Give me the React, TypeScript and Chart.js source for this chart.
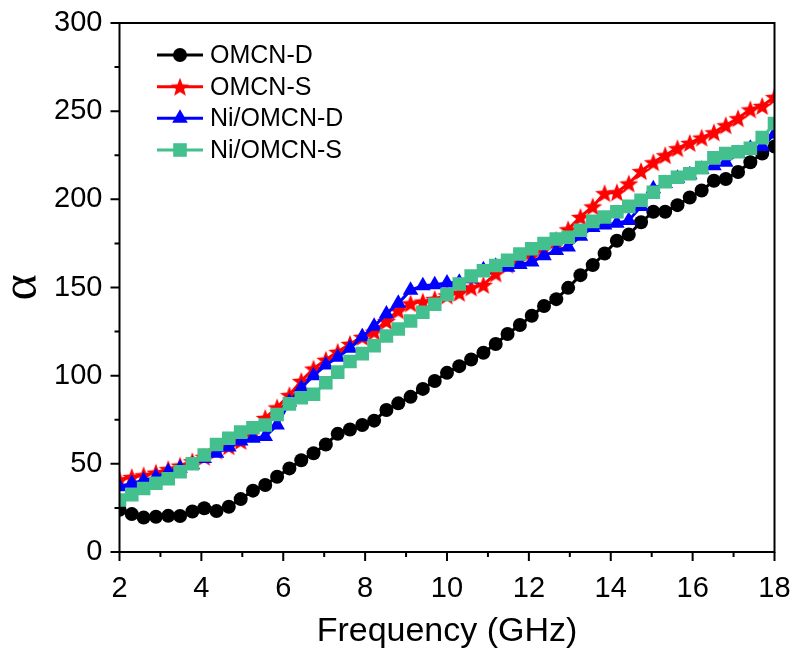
import React, { useEffect, useRef } from "react";
import { Chart, registerables } from "chart.js";

Chart.register(...registerables);

// ---------- data ----------
const FREQ = [
  2.0, 2.3, 2.59, 2.89, 3.19, 3.48, 3.78, 4.07, 4.37, 4.67, 4.96, 5.26, 5.56, 5.85,
  6.15, 6.44, 6.74, 7.04, 7.33, 7.63, 7.93, 8.22, 8.52, 8.81, 9.11, 9.41, 9.7, 10.0,
  10.3, 10.59, 10.89, 11.19, 11.48, 11.78, 12.07, 12.37, 12.67, 12.96, 13.26, 13.56,
  13.85, 14.15, 14.44, 14.74, 15.04, 15.33, 15.63, 15.93, 16.22, 16.52, 16.81, 17.11,
  17.41, 17.7, 18.0,
];

const OMCN_D = [
  24, 21.5, 19.5, 20, 20.5, 20.4, 23, 24.8, 23.2, 25.7, 30, 34.8, 38, 42.7, 47.4, 52,
  56, 61, 67, 69.5, 72, 74.5, 80.5, 84.3, 88, 92.5, 97, 101.6, 105.4, 109.2, 113, 118,
  123.6, 128.7, 134, 139.5, 143.4, 149.8, 157, 162.7, 169.3, 176.5, 180, 187, 193, 193,
  196.7, 201, 205, 210.5, 211.5, 215.5, 221, 226, 230,
];

const OMCN_S = [
  41, 42.5, 43.5, 45, 47, 49, 51.5, 54, 57.5, 60, 63, 69, 76, 82, 89, 97, 104, 109,
  113.5, 118, 122, 125, 131, 137, 141, 142, 143.5, 145.5, 147, 150, 151.5, 158, 163, 166,
  168, 172, 177, 183, 190, 196, 203.5, 204, 209, 216, 221, 225, 229, 232, 235, 238, 242,
  246, 251, 253, 258,
];

const NI_OMCN_D = [
  37, 39, 40.5, 42.5, 45.5, 47.5, 49.5, 53, 56, 59.5, 63, 64.5, 65.5, 72, 85, 93, 100,
  106, 110.5, 115.5, 122, 128, 135, 141, 148.5, 151, 151.5, 152.5, 153, 155, 160, 162,
  161.5, 163, 164.5, 168, 171, 173, 179, 184, 185.5, 186.5, 188, 196, 206, 209, 212, 214,
  217, 219, 221, 226, 229, 230, 237,
];

const NI_OMCN_S = [
  29.5, 32.5, 36, 39, 41.5, 45.5, 50, 55, 61, 64.5, 68, 70.5, 72, 78, 84, 87.5, 89.5, 96,
  102, 108, 112.5, 117, 122.5, 126.5, 131, 136, 140.5, 146, 152, 156.5, 159.5, 162.5,
  165.5, 169, 172, 175, 177.5, 178.5, 182.5, 187.5, 190, 193, 196, 199.5, 204, 210, 212.5,
  214.5, 218, 223.5, 226, 227, 229, 235, 243,
];

const SERIES_NAMES = ["OMCN-D", "OMCN-S", "Ni/OMCN-D", "Ni/OMCN-S"];
const SERIES_VALUES = [OMCN_D, OMCN_S, NI_OMCN_D, NI_OMCN_S];
const X_MIN = 2;
const X_MAX = 18;
const X_STEP = 2;
const Y_MIN = 0;
const Y_MAX = 300;
const Y_STEP = 50;
const X_TITLE = "Frequency (GHz)";
const Y_TITLE = "α";

// ---------- styles ----------
const COLORS = ["#000000", "#FF0000", "#0000FF", "#43C08E"];
const SANS = "'Liberation Sans', Arial, sans-serif";
const SERIF = "'Liberation Serif', 'Times New Roman', serif";

function makeStar(color: string, outer: number, inner: number): HTMLCanvasElement {
  const size = Math.ceil(outer * 2 + 2);
  const c = document.createElement("canvas");
  c.width = size;
  c.height = size;
  const ctx = c.getContext("2d")!;
  const cx = size / 2;
  const cy = size / 2 + outer * 0.1;
  ctx.fillStyle = color;
  ctx.beginPath();
  for (let i = 0; i < 10; i++) {
    const r = i % 2 === 0 ? outer : inner;
    const a = -Math.PI / 2 + (i * Math.PI) / 5;
    const px = cx + r * Math.cos(a);
    const py = cy + r * Math.sin(a);
    if (i === 0) ctx.moveTo(px, py);
    else ctx.lineTo(px, py);
  }
  ctx.closePath();
  ctx.fill();
  return c;
}

function drawMarker(ctx: CanvasRenderingContext2D, kind: string, x: number, y: number, color: string, star: HTMLCanvasElement) {
  ctx.fillStyle = color;
  ctx.beginPath();
  if (kind === "circle") {
    ctx.arc(x, y, 7, 0, Math.PI * 2);
    ctx.fill();
  } else if (kind === "triangle") {
    const r = 9;
    ctx.moveTo(x, y - r);
    ctx.lineTo(x + r * 0.866, y + r * 0.5);
    ctx.lineTo(x - r * 0.866, y + r * 0.5);
    ctx.closePath();
    ctx.fill();
  } else if (kind === "rect") {
    const h = 6.8;
    ctx.rect(x - h, y - h, 2 * h, 2 * h);
    ctx.fill();
  } else if (kind === "star") {
    ctx.drawImage(star, x - star.width / 2, y - star.height / 2);
  }
}

function zeroPadding(scale: any) {
  scale.paddingTop = 0;
  scale.paddingBottom = 0;
  scale.paddingLeft = 0;
  scale.paddingRight = 0;
}

export default function App() {
  const ref = useRef<HTMLCanvasElement | null>(null);

  useEffect(() => {
    if (!ref.current) return;
    const star = makeStar(COLORS[1], 10, 4.2);
    const kinds = ["circle", "star", "triangle", "rect"];

    const framePlugin = {
      id: "frameAndLegend",
      afterDatasetsDraw(chart: any) {
        const { ctx, chartArea: a, scales } = chart;
        const xs = scales.x;
        const ys = scales.y;
        ctx.save();
        ctx.strokeStyle = "#000";
        ctx.lineWidth = 2;
        ctx.strokeRect(a.left, a.top, a.right - a.left, a.bottom - a.top);
        ctx.beginPath();
        for (let v = X_MIN; v <= X_MAX; v += X_STEP / 2) {
          const px = xs.getPixelForValue(v);
          const len = (v - X_MIN) % X_STEP === 0 ? 9 : 5;
          ctx.moveTo(px, a.bottom);
          ctx.lineTo(px, a.bottom + len);
        }
        for (let v = Y_MIN; v <= Y_MAX; v += Y_STEP / 2) {
          const py = ys.getPixelForValue(v);
          const len = v % Y_STEP === 0 ? 9 : 5;
          ctx.moveTo(a.left, py);
          ctx.lineTo(a.left - len, py);
        }
        ctx.stroke();

        // legend
        const lx0 = a.left + 37.5;
        const lx1 = a.left + 83.5;
        const tx = a.left + 90.5;
        const rowY = [32, 63.7, 95.3, 127];
        ctx.font = `25px ${SANS}`;
        ctx.textBaseline = "middle";
        ctx.textAlign = "left";
        SERIES_NAMES.forEach((name, i) => {
          const y = a.top + rowY[i];
          ctx.strokeStyle = COLORS[i];
          ctx.lineWidth = 3;
          ctx.beginPath();
          ctx.moveTo(lx0, y);
          ctx.lineTo(lx1, y);
          ctx.stroke();
          drawMarker(ctx, kinds[i], (lx0 + lx1) / 2, y, COLORS[i], star);
          ctx.fillStyle = "#000";
          ctx.fillText(name, tx, y + 1);
        });
        ctx.restore();
      },
    };

    const datasets = SERIES_VALUES.map((vals, i) => ({
      label: SERIES_NAMES[i],
      data: vals.map((v, j) => ({ x: FREQ[j], y: v })),
      borderColor: COLORS[i],
      backgroundColor: COLORS[i],
      borderWidth: 3,
      pointStyle: i === 1 ? (star as any) : kinds[i],
      pointRadius: i === 0 ? 7 : i === 2 ? 9 : i === 3 ? 9.6 : 9,
      pointBorderWidth: 0,
      pointBackgroundColor: COLORS[i],
      pointBorderColor: COLORS[i],
      tension: 0,
      clip: 0,
      order: 4 - i,
    }));

    const chart = new Chart(ref.current, {
      type: "line",
      data: { datasets },
      plugins: [framePlugin],
      options: {
        animation: false,
        responsive: false,
        maintainAspectRatio: false,
        layout: { autoPadding: false, padding: { top: 23, right: 20.5, left: 0, bottom: 0 } },
        plugins: {
          legend: { display: false },
          tooltip: { enabled: false },
        },
        scales: {
          x: {
            type: "linear",
            min: X_MIN,
            max: X_MAX,
            grid: { display: false, drawTicks: false },
            border: { display: false },
            ticks: {
              stepSize: X_STEP,
              color: "#000",
              font: { family: SANS, size: 29 },
              padding: 20,
              maxRotation: 0,
              autoSkip: false,
            },
            title: {
              display: true,
              text: X_TITLE,
              color: "#000",
              font: { family: SANS, size: 34, lineHeight: 1 },
              padding: { top: 0, bottom: 13 },
            },
            afterFit: (scale: any) => {
              scale.height = 110;
              zeroPadding(scale);
            },
          },
          y: {
            type: "linear",
            min: Y_MIN,
            max: Y_MAX,
            grid: { display: false, drawTicks: false },
            border: { display: false },
            ticks: {
              stepSize: Y_STEP,
              color: "#000",
              font: { family: SANS, size: 29 },
              padding: 17,
            },
            title: {
              display: true,
              text: Y_TITLE,
              color: "#000",
              font: { family: SERIF, size: 50, lineHeight: 0.9 },
              padding: { top: 0, bottom: 0 },
            },
            afterFit: (scale: any) => {
              scale.width = 119.5;
              zeroPadding(scale);
            },
          },
        },
      },
    } as any);

    return () => chart.destroy();
  }, []);

  return (
    <div style={{ position: "absolute", left: 0, top: 0, width: 795, height: 662, background: "#fff" }}>
      <canvas ref={ref} width={795} height={662} style={{ display: "block" }} />
    </div>
  );
}
